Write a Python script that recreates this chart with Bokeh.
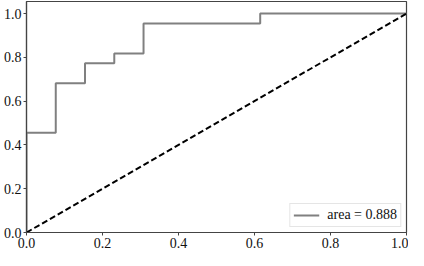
from bokeh.plotting import figure
from bokeh.embed import file_html
from bokeh.resources import INLINE
from bokeh.models import Range1d, FixedTicker, Legend, LegendItem, PrintfTickFormatter

# Data
fpr = [0.0, 0.0, 0.077, 0.154, 0.231, 0.308, 0.615, 1.0]
tpr = [0.0, 0.455, 0.682, 0.773, 0.818, 0.955, 1.0, 1.0]
diag_x = [0.0, 1.0]
diag_y = [0.0, 1.0]
ticks = [0.0, 0.2, 0.4, 0.6, 0.8, 1.0]
area_label = "area = 0.888"

FONT = "Liberation Serif"

p = figure(width=408, height=250, output_backend="svg", toolbar_location=None,
           x_range=Range1d(0, 1.0), y_range=Range1d(0, 1.055))
p.min_border_top = 1
p.min_border_right = 2
p.min_border_left = 2
p.min_border_bottom = 1
p.xgrid.visible = False
p.ygrid.visible = False
p.outline_line_color = "#444444"
p.outline_line_width = 1.2

for ax in (p.xaxis[0], p.yaxis[0]):
    ax.ticker = FixedTicker(ticks=ticks)
    ax.formatter = PrintfTickFormatter(format="%.1f")
    ax.minor_tick_line_color = None
    ax.major_tick_out = 3
    ax.major_tick_in = 0
    ax.axis_line_color = "#444444"
    ax.axis_line_width = 1.2
    ax.major_tick_line_color = "#444444"
    ax.major_label_text_font = FONT
    ax.major_label_text_font_size = "14px"
    ax.major_label_text_color = "#111111"
    ax.major_label_standoff = 2

roc = p.step(fpr, tpr, mode="after", line_color="#808080", line_width=2)
p.line(diag_x, diag_y, line_color="black", line_width=2, line_dash="6 3")

legend = Legend(items=[LegendItem(label=area_label, renderers=[roc])],
                location="bottom_right")
legend.label_text_font = FONT
legend.label_text_font_size = "14px"
legend.label_text_color = "#111111"
legend.border_line_color = "#cccccc"
legend.border_line_width = 1
legend.glyph_width = 26
legend.glyph_height = 14
legend.label_standoff = 8
legend.padding = 3
legend.margin = 5
legend.label_height = 14
p.add_layout(legend)

open("out.html", "w").write(file_html(p, INLINE))
